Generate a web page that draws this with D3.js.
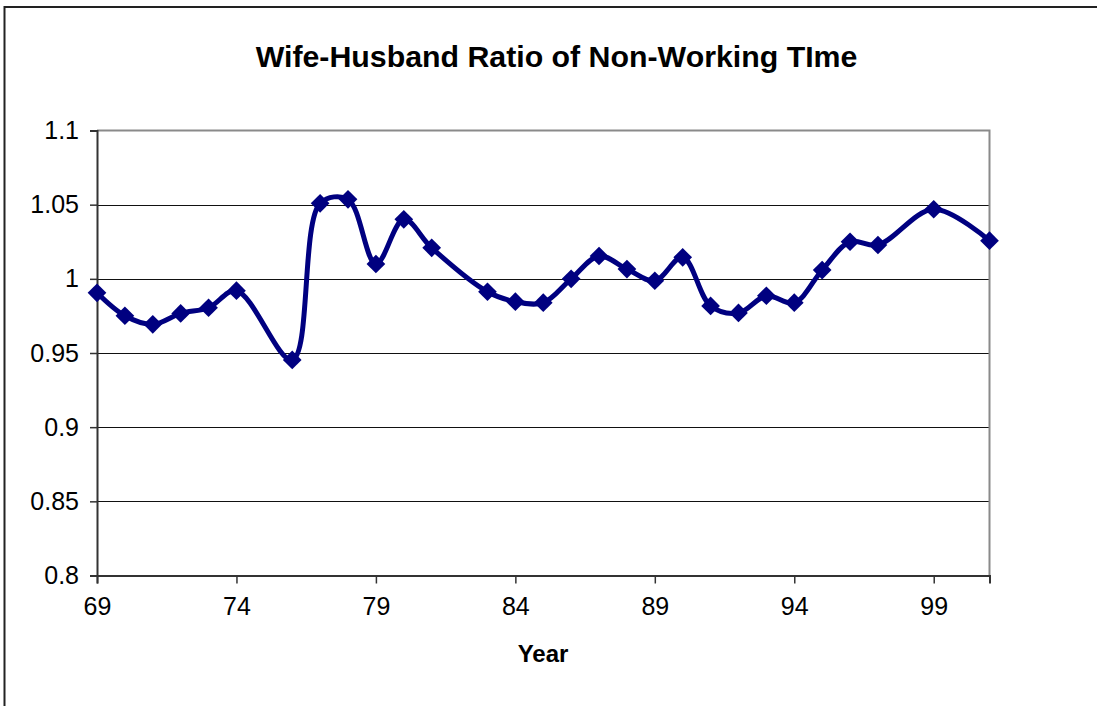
<!DOCTYPE html>
<html>
<head>
<meta charset="utf-8">
<script src="https://cdn.jsdelivr.net/npm/d3@7"></script>
<style>
  html, body { margin: 0; padding: 0; background: #ffffff; }
  svg { display: block; }
  text { font-family: "Liberation Sans", Arial, sans-serif; fill: #000; }
</style>
</head>
<body>
<svg id="chart" width="1097" height="706"></svg>
<script>
const years = [69,70,71,72,73,74,76,77,78,79,80,81,83,84,85,86,87,88,89,90,91,92,93,94,95,96,97,99,101];
const ratios = [0.9906,0.9751,0.9693,0.9767,0.9805,0.992,0.9453,1.0509,1.0536,1.010,1.0401,1.0209,0.9913,0.9846,0.9839,1.0,1.0154,1.0066,0.9987,1.0145,0.9817,0.977,0.9886,0.9839,1.0059,1.025,1.0228,1.0469,1.0257];
const xTicks = [69,74,79,84,89,94,99];
const yTicks = [0.8,0.85,0.9,0.95,1,1.05,1.1];
const yTickLabels = ["0.8","0.85","0.9","0.95","1","1.05","1.1"];
const xDomain = [69, 101];
const yDomain = [0.8, 1.1];
const titleText = "Wife-Husband Ratio of Non-Working TIme";
const xTitle = "Year";

const svg = d3.select("#chart");
const L = 97, R = 989.5, T = 130.5, B = 575.5;

// outer chart frame
svg.append("rect").attr("x", 4.5).attr("y", 7).attr("width", 1200).attr("height", 900)
  .attr("fill", "none").attr("stroke", "#222").attr("stroke-width", 2);

const x = d3.scaleLinear().domain(xDomain).range([L, R]);
const y = d3.scaleLinear().domain(yDomain).range([B, T]);

// gridlines
svg.append("g").selectAll("line").data(yTicks.filter(v => v > 0.8 && v < 1.1)).join("line")
  .attr("x1", L).attr("x2", R).attr("y1", d => Math.round(y(d)) + 0.5).attr("y2", d => Math.round(y(d)) + 0.5)
  .attr("stroke", "#111").attr("stroke-width", 1);

// plot border top/right (gray)
svg.append("path").attr("d", `M${L},${T}H${R}V${B}`).attr("fill", "none")
  .attr("stroke", "#8a8a8a").attr("stroke-width", 2);

// y axis
const yAxis = d3.axisLeft(y).tickValues(yTicks).tickFormat((d, i) => yTickLabels[i]).tickSize(7).tickPadding(11);
const gy = svg.append("g").attr("transform", `translate(${L},0)`).call(yAxis);
gy.attr("font-size", null).attr("font-family", null);
gy.select(".domain").attr("stroke", "#333").attr("stroke-width", 2);
gy.selectAll(".tick line").attr("stroke", "#333").attr("stroke-width", 1.5);
gy.selectAll(".tick text").style("font-size", "25px").style("font-family", "'Liberation Sans', Arial, sans-serif").attr("fill", "#000");

// x axis
const xAxis = d3.axisBottom(x).tickValues(xTicks).tickFormat(d3.format("d")).tickSize(8).tickPadding(14);
const gx = svg.append("g").attr("transform", `translate(0,${B})`).call(xAxis);
gx.attr("font-size", null).attr("font-family", null);
gx.select(".domain").attr("stroke", "#333").attr("stroke-width", 2);
gx.selectAll(".tick line").attr("stroke", "#333").attr("stroke-width", 1.5);
gx.selectAll(".tick text").style("font-size", "25px").style("font-family", "'Liberation Sans', Arial, sans-serif").attr("fill", "#000");

// series line
const pts = years.map((yr, i) => ({ yr, v: ratios[i] }));
const line = d3.line().x(d => x(d.yr)).y(d => y(d.v)).curve(d3.curveCatmullRom.alpha(0.5));
svg.append("path").datum(pts).attr("d", line).attr("fill", "none")
  .attr("stroke", "#000080").attr("stroke-width", 5).attr("stroke-linejoin", "round");

// markers
const diamond = d3.symbol(d3.symbolSquare, 175);
svg.append("g").selectAll("path").data(pts).join("path")
  .attr("d", diamond)
  .attr("transform", d => `translate(${x(d.yr)},${y(d.v)}) rotate(45)`)
  .attr("fill", "#000080");

// title
svg.append("text").attr("x", 556.5).attr("y", 67).attr("text-anchor", "middle")
  .style("font-size", "30.3px").attr("font-weight", "bold").text(titleText);

// x axis title
svg.append("text").attr("x", 543).attr("y", 662).attr("text-anchor", "middle")
  .style("font-size", "24px").attr("font-weight", "bold").text(xTitle);
</script>
</body>
</html>
